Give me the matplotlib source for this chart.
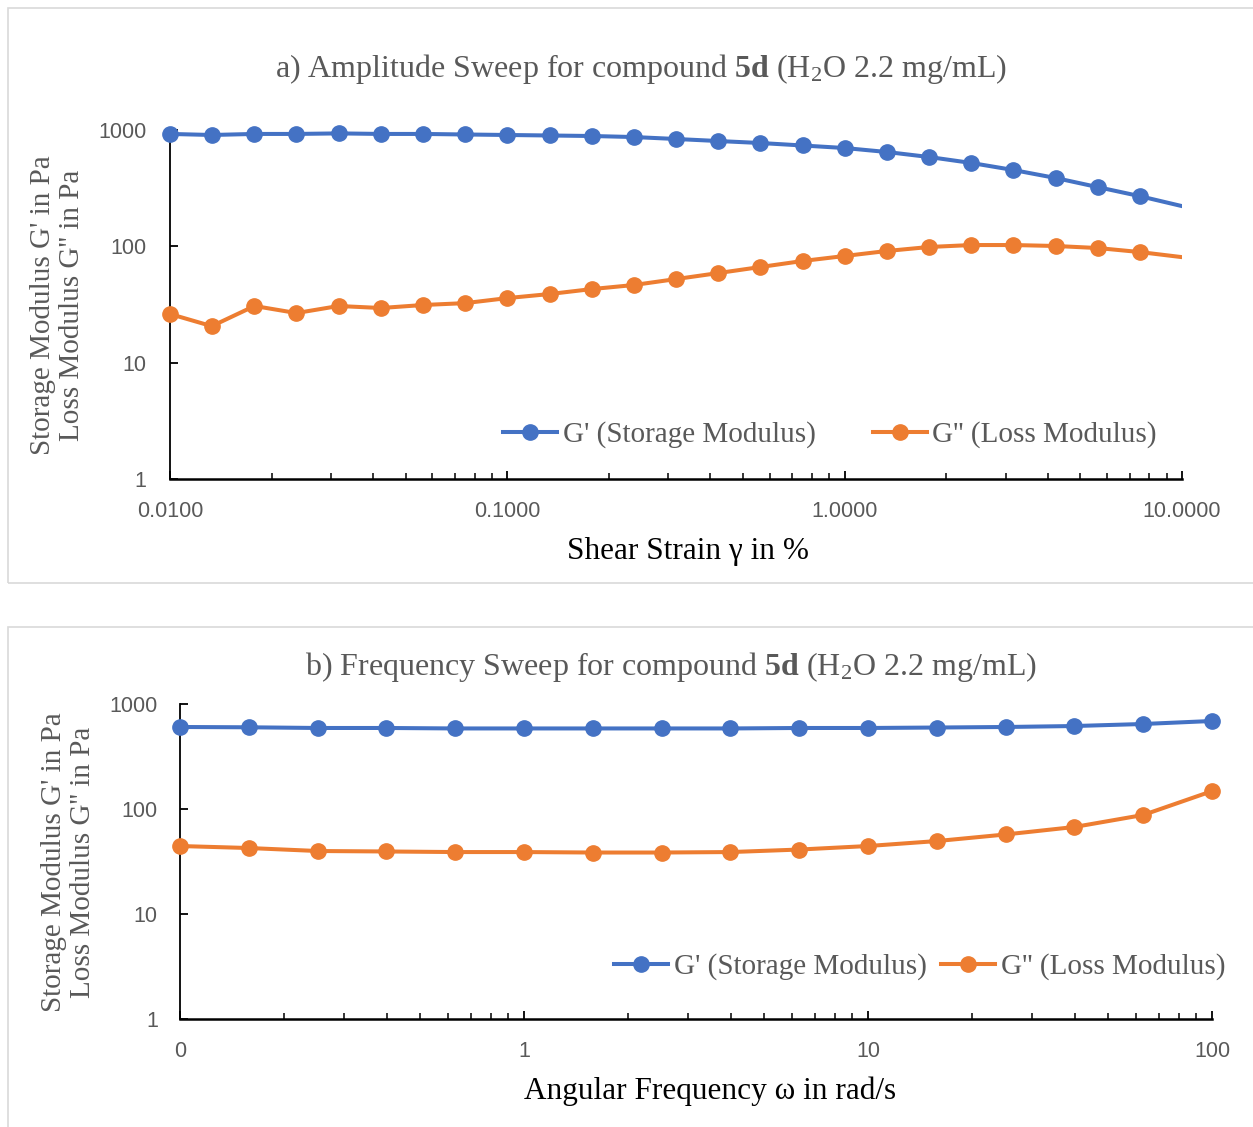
import numpy as np
import matplotlib
matplotlib.use("Agg")
import matplotlib.pyplot as plt
from matplotlib.lines import Line2D
from matplotlib.patches import Rectangle
from matplotlib.ticker import FixedLocator, FixedFormatter, LogLocator, NullLocator

plt.rcParams['mathtext.fontset'] = 'custom'
plt.rcParams['mathtext.rm'] = 'Liberation Serif'
plt.rcParams['mathtext.bf'] = 'Liberation Serif:bold'
plt.rcParams['mathtext.it'] = 'Liberation Serif:italic'
plt.rcParams['mathtext.default'] = 'regular'

# ---------------- data ----------------
# a) amplitude sweep
strain = [0.0100, 0.0133, 0.0178, 0.0237, 0.0316, 0.0422, 0.0562, 0.0750,
          0.1000, 0.1334, 0.1778, 0.2371, 0.3162, 0.4217, 0.5623, 0.7499,
          1.0000, 1.3335, 1.7783, 2.3714, 3.1623, 4.2170, 5.6234, 7.4989,
          13.335]
g1_amp = [925, 906, 925, 925, 935, 925, 925, 915, 906, 897, 888, 870, 837,
          804, 773, 736, 700, 647, 586, 521, 453, 387, 323, 270, 182]
g2_amp = [26.2, 20.6, 30.7, 26.7, 30.7, 29.5, 31.3, 32.5, 35.9, 38.9, 42.9,
          46.5, 52.3, 58.9, 66.4, 74.8, 82.6, 91.2, 98.7, 102.6, 102.6, 100.7,
          96.7, 89.3, 73.0]

# b) frequency sweep
omega = [0.1000, 0.1585, 0.2512, 0.3981, 0.6310, 1.0000, 1.5849, 2.5119,
         3.9811, 6.3096, 10.000, 15.849, 25.119, 39.811, 63.096, 100.00]
g1_freq = [604, 600, 591, 591, 585, 585, 585, 585, 585, 591, 591, 597, 604,
           617, 645, 689]
g2_freq = [44.4, 42.5, 39.8, 39.4, 38.9, 38.9, 38.5, 38.5, 38.9, 41.1, 44.4,
           49.5, 57.2, 67.4, 87.7, 148]

series_labels = ["G' (Storage Modulus)", "G'' (Loss Modulus)"]
ytick_vals = [1, 10, 100, 1000]
ytick_labels = ["1", "10", "100", "1000"]
xa_ticks = [0.01, 0.1, 1, 10]
xa_labels = ["0.0100", "0.1000", "1.0000", "10.0000"]
xb_ticks = [0.1, 1, 10, 100]
xb_labels = ["0", "1", "10", "100"]

BLUE = '#4472C4'
ORANGE = '#ED7D31'
GRAY = '#595959'

W, H = 1253, 1127
fig = plt.figure(figsize=(W / 100, H / 100), dpi=100)

# chart area borders
for (x0, y0, x1, y1) in [(8, 8, 1260, 583), (8, 627, 1260, 1140)]:
    fig.patches.append(Rectangle((x0 / W, 1 - y1 / H), (x1 - x0) / W, (y1 - y0) / H,
                                 transform=fig.transFigure, fill=False,
                                 edgecolor='#D9D9D9', linewidth=1.2))

def ax_rect(l, t, r, b):
    return [l / W, 1 - b / H, (r - l) / W, (b - t) / H]

def style_axis(ax, xt, xl, ypad, xpad):
    ax.set_xscale('log')
    ax.set_yscale('log')
    ax.set_ylim(1, 1000)
    for s in ['top', 'right']:
        ax.spines[s].set_visible(False)
    for s in ['left', 'bottom']:
        ax.spines[s].set_color('black')
        ax.spines[s].set_linewidth(1.3)
    ax.spines['bottom'].set_linewidth(1.8)
    ax.yaxis.set_major_locator(FixedLocator(ytick_vals))
    ax.yaxis.set_major_formatter(FixedFormatter(ytick_labels))
    ax.yaxis.set_minor_locator(NullLocator())
    ax.xaxis.set_major_locator(FixedLocator(xt))
    ax.xaxis.set_major_formatter(FixedFormatter(xl))
    ax.xaxis.set_minor_locator(LogLocator(base=10, subs=np.arange(2, 10)))
    ax.tick_params(axis='both', which='major', direction='in', length=5.5,
                   width=1.3, color='black', labelcolor=GRAY, labelsize=15.5)
    ax.tick_params(axis='x', which='minor', direction='in', length=4,
                   width=1.1, color='black')
    ax.tick_params(axis='y', which='major', pad=ypad)
    ax.tick_params(axis='x', which='major', pad=xpad)
    for lab in ax.get_xticklabels() + ax.get_yticklabels():
        lab.set_fontfamily('Liberation Sans')
    ax.patch.set_alpha(0)

lw = 2.9
ms = 11
TITLE_FS = 23
LABEL_FS = 22.5
YLAB_FS = 21
LEG_FS = 21

# ---------------- panel a ----------------
axa = fig.add_axes(ax_rect(170, 130, 1182, 479))
style_axis(axa, xa_ticks, xa_labels, 17, 16)
axa.set_xlim(0.01, 10)
sa = np.array(strain)
vis = sa <= 10
for vals, col in [(g1_amp, BLUE), (g2_amp, ORANGE)]:
    v = np.array(vals)
    axa.plot(sa, v, color=col, lw=lw, solid_capstyle='round', zorder=3)
    axa.plot(sa[vis], v[vis], ls='none', marker='o', ms=ms, color=col,
             clip_on=False, zorder=4)

handles = [Line2D([], [], color=BLUE, lw=lw, marker='o', ms=ms),
           Line2D([], [], color=ORANGE, lw=lw, marker='o', ms=ms)]
axa.legend(handles, series_labels, loc='center', ncol=2,
           bbox_to_anchor=(830 / W, 1 - 435 / H), bbox_transform=fig.transFigure,
           frameon=False, prop={'family': 'Liberation Serif', 'size': LEG_FS},
           handlelength=1.85, handletextpad=0.2, columnspacing=1.95,
           labelcolor=GRAY)

fig.text(641 / W, 1 - 69 / H,
         r"a) Amplitude Sweep for compound $\mathbf{5d}$ (H$_2$O 2.2 mg/mL)",
         ha='center', va='center', fontsize=TITLE_FS, color=GRAY,
         family='Liberation Serif')
fig.text(688 / W, 1 - 551 / H, "Shear Strain γ in %", ha='center', va='center',
         fontsize=LABEL_FS, color='black', family='Liberation Serif')
fig.text(58 / W, 1 - 305 / H, "Storage Modulus G' in Pa\nLoss Modulus G'' in Pa",
         ha='center', va='center', rotation=90, multialignment='center',
         fontsize=YLAB_FS, color=GRAY, family='Liberation Serif', linespacing=1.15)

# ---------------- panel b ----------------
axb = fig.add_axes(ax_rect(180, 704, 1212, 1019))
style_axis(axb, xb_ticks, xb_labels, 16, 16)
axb.set_xlim(0.1, 100)
for vals, col in [(g1_freq, BLUE), (g2_freq, ORANGE)]:
    axb.plot(omega, vals, color=col, lw=lw, marker='o', ms=ms, clip_on=False,
             zorder=3)

axb.legend(handles, series_labels, loc='center', ncol=2,
           bbox_to_anchor=(919.5 / W, 1 - 967 / H), bbox_transform=fig.transFigure,
           frameon=False, prop={'family': 'Liberation Serif', 'size': LEG_FS},
           handlelength=1.85, handletextpad=0.2, columnspacing=0.5,
           labelcolor=GRAY)

fig.text(671 / W, 1 - 667 / H,
         r"b) Frequency Sweep for compound $\mathbf{5d}$ (H$_2$O 2.2 mg/mL)",
         ha='center', va='center', fontsize=TITLE_FS, color=GRAY,
         family='Liberation Serif')
fig.text(710 / W, 1 - 1091 / H, "Angular Frequency ω in rad/s", ha='center',
         va='center', fontsize=LABEL_FS, color='black', family='Liberation Serif')
fig.text(69 / W, 1 - 862 / H, "Storage Modulus G' in Pa\nLoss Modulus G'' in Pa",
         ha='center', va='center', rotation=90, multialignment='center',
         fontsize=YLAB_FS, color=GRAY, family='Liberation Serif', linespacing=1.15)

fig.savefig('out.png', dpi=100, facecolor='white')
